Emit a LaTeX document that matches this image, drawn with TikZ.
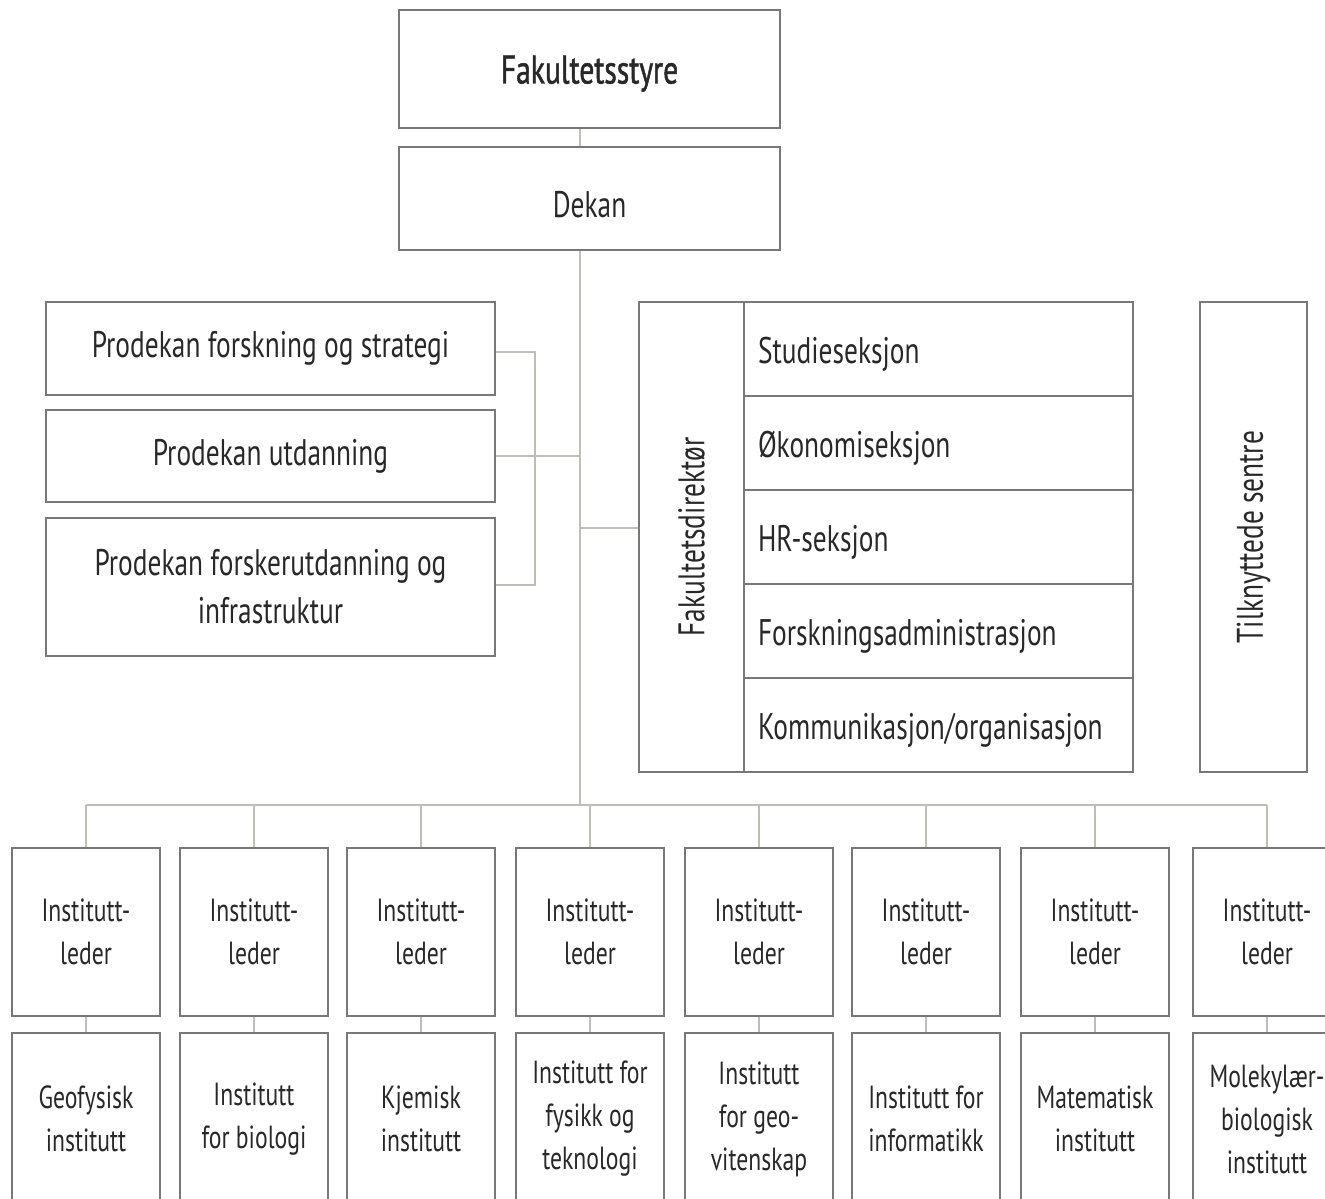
\documentclass[tikz,border=0pt]{standalone}
\usepackage{fontspec}
\setmainfont{PT Sans}[FakeStretch=0.74]
\newfontfamily\semibold{PT Sans}[FakeStretch=0.74,FakeBold=1.2]
\definecolor{bordercol}{RGB}{120,120,120}
\definecolor{conncol}{RGB}{192,189,184}
\definecolor{textcol}{RGB}{40,40,40}
\begin{document}
\begin{tikzpicture}[x=1pt,y=-1pt,
  box/.style={draw=bordercol, line width=2pt, fill=white, inner sep=0pt, text=textcol, align=center,
    font=\fontsize{37}{48}\selectfont},
  conn/.style={draw=conncol, line width=2.5pt},
  row/.style={box, minimum width=389pt, minimum height=94pt, text width=361pt, align=left,
    text height=29pt, text depth=0pt},
  lead/.style={box, minimum width=148pt, minimum height=168pt, font=\fontsize{32}{43}\selectfont},
  dept/.style={box, minimum width=148pt, minimum height=172pt, font=\fontsize{32}{43}\selectfont},
  vlabel/.style={rotate=90, text=textcol, inner sep=0pt, font=\fontsize{37}{48}\selectfont}
]
\useasboundingbox (0,0) rectangle (1325,1199);
\clip (0,0) rectangle (1325,1199);
\fill[white] (0,0) rectangle (1325,1199);

\coordinate (bus) at (580,805);
\coordinate (busL) at (86,805);
\coordinate (busR) at (1267,805);
\coordinate (brkT) at (535,352);
\coordinate (brkB) at (535,585);
\coordinate (pmid) at (580,456);
\coordinate (fdmid) at (580,528);

% top boxes
\node[box, minimum width=381pt, minimum height=118pt, font=\fontsize{40}{48}\semibold,
      text height=29pt, text depth=0pt] (styre) at (589.5,69) {Fakultetsstyre};
\node[box, minimum width=381pt, minimum height=103pt, text height=37pt, text depth=0pt] (dekan) at (589.5,198.5) {Dekan};

% prodekan
\node[box, minimum width=449pt, minimum height=93pt] (p1) at (270.5,348.5) {Prodekan forskning og strategi};
\node[box, minimum width=449pt, minimum height=92pt] (p2) at (270.5,456) {Prodekan utdanning};
\node[box, minimum width=449pt, minimum height=138pt] (p3) at (270.5,587) {Prodekan forskerutdanning og\\infrastruktur};

% fakultetsdirektør block
\node[box, minimum width=105pt, minimum height=470pt] (fd) at (691.5,537) {};
\node[vlabel] (fdlabel) at (fd.center) {Fakultetsdirektør};
\node[row] (r1) at (938.5,349) {Studieseksjon};
\node[row] (r2) at (938.5,443) {Økonomiseksjon};
\node[row] (r3) at (938.5,537) {HR-seksjon};
\node[row] (r4) at (938.5,631) {Forskningsadministrasjon};
\node[row] (r5) at (938.5,725) {Kommunikasjon/organisasjon};

% tilknyttede sentre
\node[box, minimum width=107pt, minimum height=470pt] (ts) at (1253.5,537) {};
\node[vlabel] (tslabel) at (ts.center) {Tilknyttede sentre};

% institutes
\foreach \i/\cx/\dname in {1/86/{Geofysisk\\institutt},
                          2/254/{Institutt\\for biologi},
                          3/421/{Kjemisk\\institutt},
                          4/590/{Institutt for\\fysikk og\\teknologi},
                          5/759/{Institutt\\for geo-\\vitenskap},
                          6/926/{Institutt for\\informatikk},
                          7/1095/{Matematisk\\institutt},
                          8/1267/{Molekylær-\\biologisk\\institutt}} {
  \node[lead] (l\i) at (\cx,932) {Institutt-\\leder};
  \node[dept] (d\i) at (\cx,1119) {\dname};
}

% connector lines
\draw[conn] (styre.south -| bus) -- (dekan.north -| bus);
\draw[conn] (dekan.south -| bus) -- (bus);
\draw[conn] (p1.east |- brkT) -- (brkT) -- (brkB) -- (p3.east |- brkB);
\draw[conn] (p2.east) -- (pmid);
\draw[conn] (fdmid) -- (fd.west |- fdmid);
\draw[conn] (busL) -- (busR);
\foreach \i in {1,...,8} {
  \draw[conn] (l\i.north |- bus) -- (l\i.north);
  \draw[conn] (l\i.south) -- (d\i.north);
}
\end{tikzpicture}
\end{document}
